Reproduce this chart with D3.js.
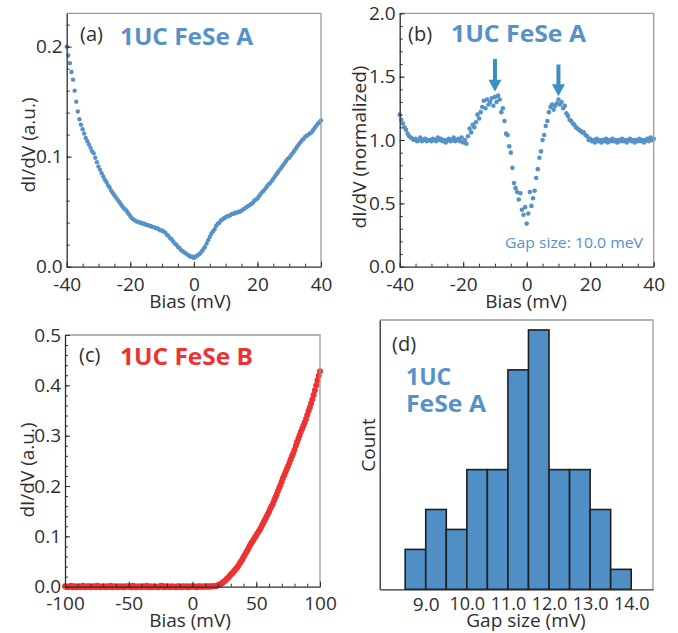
<!DOCTYPE html>
<html>
<head>
<meta charset="utf-8">
<script src="https://cdn.jsdelivr.net/npm/d3@7"></script>
<style>
  body { margin: 0; background: #fff; }
  text { font-family: "Open Sans", "Noto Sans", sans-serif; }
</style>
</head>
<body>
<div id="chart"></div>
<script>
// (a) dI/dV spectrum, 1UC FeSe A, bias -40..40 mV in 0.5 mV steps
var aBias = d3.range(-40, 40.001, 0.5);
var aDidv = [
  0.200,0.192,0.185,0.177,0.170,0.160,0.150,0.141,0.134,0.129,
  0.125,0.121,0.117,0.114,0.111,0.108,0.105,0.103,0.099,0.095,
  0.091,0.088,0.085,0.082,0.079,0.077,0.074,0.072,0.069,0.067,
  0.065,0.063,0.061,0.059,0.057,0.055,0.053,0.052,0.050,0.048,
  0.046,0.044,0.043,0.042,0.041,0.041,0.040,0.040,0.039,0.039,
  0.038,0.038,0.037,0.037,0.036,0.036,0.035,0.035,0.034,0.033,
  0.033,0.032,0.031,0.029,0.028,0.026,0.025,0.023,0.021,0.020,
  0.018,0.017,0.015,0.014,0.013,0.012,0.011,0.010,0.009,0.009,
  0.008,
  0.009,0.010,0.011,0.012,0.014,0.016,0.018,0.021,0.024,0.027,
  0.030,0.032,0.034,0.037,0.039,0.040,0.042,0.043,0.044,0.045,
  0.046,0.046,0.047,0.048,0.048,0.049,0.049,0.050,0.050,0.051,
  0.052,0.053,0.054,0.055,0.056,0.057,0.058,0.060,0.061,0.062,
  0.064,0.066,0.068,0.069,0.071,0.073,0.075,0.076,0.078,0.080,
  0.082,0.084,0.086,0.088,0.090,0.092,0.094,0.096,0.098,0.099,
  0.101,0.103,0.105,0.107,0.109,0.111,0.113,0.115,0.116,0.118,
  0.119,0.120,0.121,0.122,0.124,0.126,0.128,0.130,0.131,0.133
];

// (b) normalized spectrum, same grid
var bBias = d3.range(-40, 40.001, 0.5);
var bDidv = [
  1.20,1.16,1.13,1.10,1.08,1.05,1.03,1.02,1.01,1.00,
  1.01,0.99,1.00,1.02,0.99,1.00,1.01,0.99,1.00,1.00,
  0.99,1.01,1.00,0.99,1.02,1.00,1.01,0.99,1.00,0.98,
  1.00,1.01,0.99,1.00,1.02,0.99,1.00,1.01,0.99,1.02,
  0.98,1.00,0.97,1.03,1.09,1.06,1.12,1.10,1.14,1.20,
  1.17,1.22,1.26,1.31,1.25,1.32,1.28,1.30,1.33,1.27,
  1.34,1.30,1.35,1.32,1.22,1.25,1.15,1.05,1.04,0.95,
  0.90,0.78,0.66,0.62,0.59,0.53,0.58,0.45,0.41,0.47,
  0.34,
  0.42,0.59,0.48,0.54,0.60,0.70,0.77,0.86,0.91,1.00,
  1.04,1.11,1.15,1.22,1.26,1.28,1.24,1.27,1.29,1.32,
  1.28,1.30,1.25,1.27,1.21,1.19,1.16,1.15,1.13,1.12,
  1.10,1.09,1.08,1.07,1.06,1.06,1.04,1.03,1.00,1.01,
  0.99,1.00,0.98,1.01,0.99,1.00,0.98,1.00,0.99,1.01,
  0.98,1.00,0.99,1.01,0.99,1.00,0.98,1.00,0.99,1.01,
  0.99,1.00,0.98,1.00,1.01,0.99,1.00,0.98,1.00,0.99,
  1.01,0.99,1.00,0.98,1.00,1.01,0.99,1.02,1.00,1.01
];
// coherence peak arrows
var arrowBias = [-10, 10];
var arrowTop = [1.64, 1.595];
var arrowTip = [1.38, 1.345];

// (c) 1UC FeSe B, -100..100 mV in 1 mV steps
var cBias = d3.range(-100, 100.001, 1);
var cDidv = [
  0.001,0.000,-0.001,0.001,0.000,0.002,-0.001,0.000,0.001,-0.001,
  0.000,0.001,-0.001,0.000,0.002,0.000,-0.001,0.001,0.000,0.001,
  -0.001,0.000,0.001,0.000,-0.001,0.002,0.000,0.001,-0.001,0.000,
  0.001,0.000,-0.001,0.001,0.000,0.000,0.002,-0.001,0.000,0.001,
  0.000,-0.001,0.001,0.000,0.000,0.001,-0.001,0.000,0.001,0.000,
  0.001,0.000,-0.001,0.002,0.000,0.001,-0.001,0.000,0.001,0.000,
  -0.001,0.001,0.000,0.000,0.002,-0.001,0.000,0.001,-0.001,0.000,
  0.001,0.000,0.000,-0.001,0.001,0.000,0.002,0.000,-0.001,0.001,
  0.000,0.001,-0.001,0.000,0.001,0.000,0.000,-0.001,0.001,0.000,
  0.001,-0.001,0.000,0.001,0.000,0.000,0.001,-0.001,0.000,0.001,
  0.000,0.001,0.000,-0.001,0.001,0.000,0.001,0.000,0.000,0.001,
  0.000,0.001,0.000,0.001,0.000,0.001,0.001,0.001,
  0.001,0.002,0.003,0.004,0.005,0.007,0.009,0.011,0.013,0.016,
  0.018,0.021,0.024,0.026,0.029,0.032,0.035,0.038,0.042,0.046,
  0.050,0.054,0.059,0.063,0.068,0.072,0.077,0.082,0.086,0.090,
  0.094,0.098,0.102,0.106,0.110,0.114,0.119,0.124,0.129,0.134,
  0.139,0.144,0.149,0.155,0.160,0.165,0.171,0.177,0.183,0.190,
  0.196,0.202,0.209,0.216,0.222,0.228,0.234,0.240,0.246,0.253,
  0.259,0.265,0.272,0.280,0.287,0.294,0.301,0.308,0.314,0.320,
  0.326,0.333,0.341,0.349,0.356,0.364,0.372,0.381,0.390,0.400,
  0.410,0.419,0.428
];

// (d) gap size histogram (bin start, 0.5 mV wide)
var gapBinStart = [8.5, 9.0, 9.5, 10.0, 10.5, 11.0, 11.5, 12.0, 12.5, 13.0, 13.5];
var gapCount = [2, 4, 3, 6, 6, 11, 13, 6, 6, 4, 1];
var gapBinWidth = 0.5;
var gapTicks = [9, 10, 11, 12, 13, 14];

var blue = "#5592c8", red = "#ee3232", ink = "#2e2e2e";

var svg = d3.select("#chart")
  .append("svg")
    .attr("width", 678)
    .attr("height", 633);

svg.append("rect").attr("width", 678).attr("height", 633).attr("fill", "#fff");

function panel(box, xDom, yDom) {
  return {
    box: box,
    x: d3.scaleLinear().domain(xDom).range([box.x0, box.x1]),
    y: d3.scaleLinear().domain(yDom).range([box.y1, box.y0])
  };
}

var pA = panel({x0: 66.7, x1: 321, y0: 13.3, y1: 266.7}, [-40, 40], [0, 0.2303]);
var pB = panel({x0: 399.7, x1: 653.7, y0: 13.3, y1: 266.7}, [-40, 40], [0, 2.0]);
var pC = panel({x0: 65, x1: 320, y0: 335, y1: 586.7}, [-100, 100], [0, 0.5]);
var pD = panel({x0: 379.7, x1: 653, y0: 320, y1: 589.3}, [7.88, 14.53], [0, 13.5]);

function dots(p, xs, ys, color, r) {
  svg.append("g").selectAll("circle")
    .data(xs)
    .enter()
    .append("circle")
      .attr("cx", function(d) { return p.x(d); })
      .attr("cy", function(d, i) { return p.y(ys[i]); })
      .attr("r", r)
      .attr("fill", color);
}

function frame(p, xMajor, xMinor, yMajor, yMinor, xFmt, yFmt, pad) {
  var b = p.box;
  svg.append("path")
    .attr("d", "M" + b.x0 + "," + b.y0 + "H" + b.x1 + "V" + b.y1)
    .attr("fill", "none")
    .attr("stroke", "#9a9a9a")
    .attr("stroke-width", 1.3);

  // minor ticks
  if (xMinor) {
    var gx = svg.append("g")
      .attr("transform", "translate(0," + b.y1 + ")")
      .call(d3.axisBottom(p.x).tickValues(xMinor).tickSize(-3).tickFormat(""));
    gx.select(".domain").remove();
  }
  if (yMinor) {
    var gy = svg.append("g")
      .attr("transform", "translate(" + b.x0 + ",0)")
      .call(d3.axisLeft(p.y).tickValues(yMinor).tickSize(-3).tickFormat(""));
    gy.select(".domain").remove();
  }

  // major ticks + labels
  svg.append("g")
    .attr("class", "ax")
    .attr("transform", "translate(0," + b.y1 + ")")
    .call(d3.axisBottom(p.x).tickValues(xMajor || []).tickSizeInner(xMinor ? -5 : 0)
      .tickSizeOuter(0).tickPadding(pad).tickFormat(xFmt));
  svg.append("g")
    .attr("class", "ax")
    .attr("transform", "translate(" + b.x0 + ",0)")
    .call(d3.axisLeft(p.y).tickValues(yMajor || []).tickSizeInner(yMinor ? -5 : 0)
      .tickSizeOuter(0).tickPadding(4).tickFormat(yFmt));
}

function label(x, y, str, size, color, weight, len, rot) {
  var t = svg.append("text")
    .attr("x", x)
    .attr("y", y)
    .attr("font-size", size)
    .attr("fill", color)
    .attr("font-weight", weight || "normal")
    .text(str);
  if (len) t.attr("textLength", len).attr("lengthAdjust", "spacingAndGlyphs");
  if (rot) t.attr("transform", "rotate(-90," + x + "," + y + ")").attr("text-anchor", "middle");
  return t;
}

var plain = function(d) { return String(d); };
var f1 = d3.format(".1f");

// ---- (a)
dots(pA, aBias, aDidv, blue, 2.2);
frame(pA, [-40, -20, 0, 20, 40], d3.range(-40, 41, 5), [0, 0.1, 0.2], d3.range(0, 0.23, 0.02), plain, f1, 11);
label(80, 41, "(a)", 20, ink);
label(120, 45, "1UC FeSe A", 23, blue, "bold", 133);
label(190, 308, "Bias (mV)", 19, ink).attr("text-anchor", "middle");
label(35, 145, "dI/dV (a.u.)", 19, ink, null, null, true);

// ---- (b)
dots(pB, bBias, bDidv, blue, 2.3);
svg.append("g").selectAll("path")
  .data(arrowBias)
  .enter()
  .append("path")
    .attr("d", function(d, i) {
      var cx = pB.x(d), top = pB.y(arrowTop[i]), tip = pB.y(arrowTip[i]);
      return "M" + (cx - 2) + "," + top + "V" + (tip - 12) + "H" + (cx - 6.5) +
        "L" + cx + "," + tip + "L" + (cx + 6.5) + "," + (tip - 12) + "H" + (cx + 2) + "V" + top + "Z";
    })
    .attr("fill", "#3a90c0");
frame(pB, [-40, -20, 0, 20, 40], d3.range(-40, 41, 5), [0, 0.5, 1.0, 1.5, 2.0], d3.range(0, 2.01, 0.1), plain, f1, 11);
label(408, 41, "(b)", 20, ink);
label(451, 42, "1UC FeSe A", 23, blue, "bold", 135);
label(505, 248, "Gap size: 10.0 meV", 15, blue, null, 138);
label(526, 308, "Bias (mV)", 19, ink).attr("text-anchor", "middle");
label(366, 147, "dI/dV (normalized)", 19, ink, null, null, true);

// ---- (c)
dots(pC, cBias, cDidv, red, 3);
frame(pC, [-100, -50, 0, 50, 100], d3.range(-100, 101, 10), [0, 0.1, 0.2, 0.3, 0.4, 0.5], d3.range(0, 0.51, 0.02), plain, f1, 10);
label(79, 362, "(c)", 20, ink);
label(120, 365, "1UC FeSe B", 23, red, "bold", 133);
label(190, 627, "Bias (mV)", 19, ink).attr("text-anchor", "middle");
label(34, 470, "dI/dV (a.u.)", 19, ink, null, null, true);

// ---- (d)
svg.append("g").selectAll("rect")
  .data(gapBinStart)
  .enter()
  .append("rect")
    .attr("x", function(d) { return pD.x(d); })
    .attr("width", function(d) { return pD.x(d + gapBinWidth) - pD.x(d); })
    .attr("y", function(d, i) { return pD.y(gapCount[i]); })
    .attr("height", function(d, i) { return pD.y(0) - pD.y(gapCount[i]); })
    .attr("fill", "#4f8fc6")
    .attr("stroke", "#1f1f1f")
    .attr("stroke-width", 1.6);
frame(pD, gapTicks, null, [], null, f1, f1, 8);
label(392, 351, "(d)", 20, ink);
label(406, 385, "1UC", 23, blue, "bold");
label(406, 412, "FeSe A", 23, blue, "bold", 80);
label(526, 627, "Gap size (mV)", 19, ink).attr("text-anchor", "middle");
label(375, 445, "Count", 19, ink, null, null, true);

// axis styling
svg.selectAll(".domain").attr("stroke", ink).attr("stroke-width", 1.3);
svg.selectAll(".tick line").attr("stroke", ink).attr("stroke-width", 1);
svg.selectAll(".ax .tick text")
  .attr("font-size", 19)
  .attr("fill", ink)
  .attr("font-family", "'Open Sans', 'Noto Sans', sans-serif");
// gap-size labels sit edge to edge in the reference; keep them just apart
svg.selectAll(".ax .tick text")
  .filter(function(d) { return gapTicks.indexOf(d) >= 0 && this.getBBox().width > 30; })
  .attr("font-size", 18);
</script>
</body>
</html>
